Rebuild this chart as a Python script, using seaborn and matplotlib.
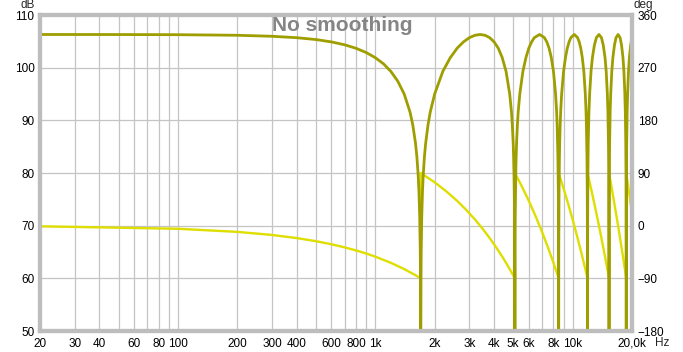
import numpy as np
import pandas as pd
import matplotlib
matplotlib.use("Agg")
import matplotlib.pyplot as plt
import seaborn as sns

mag_freq = [20, 50, 100, 200, 300, 400, 500, 600, 700, 800, 900, 1000, 1100, 1200, 1300,
            1400, 1500, 1550, 1600, 1625, 1650, 1665, 1680, 1690, 1695, 1698, 1700,
            1702, 1705, 1710, 1720, 1735, 1750, 1775, 1800, 1850, 1900, 2000, 2200, 2400,
            2600, 2800, 3000, 3200, 3400, 3600, 3800, 4000, 4200, 4400, 4600, 4800, 4900,
            4950, 5000, 5025, 5050, 5065, 5080, 5090, 5095, 5098, 5100,
            5102, 5105, 5110, 5120, 5135, 5150, 5175, 5200, 5250, 5300, 5400, 5600, 5800,
            6000, 6200, 6400, 6800, 7200, 7400, 7600, 7800, 8000, 8200, 8300, 8350, 8400,
            8425, 8450, 8465, 8480, 8490, 8495, 8498, 8500,
            8502, 8505, 8510, 8520, 8535, 8550, 8575, 8600, 8650, 8700, 8800, 9000, 9200,
            9400, 9600, 9800, 10200, 10600, 10800, 11000, 11200, 11400, 11600, 11700,
            11750, 11800, 11825, 11850, 11865, 11880, 11890, 11895, 11898, 11900,
            11902, 11905, 11910, 11920, 11950, 12000, 12100, 12200, 12400, 12600, 12900,
            13200, 13600, 14000, 14300, 14600, 14800, 15000, 15100, 15200, 15250, 15280,
            15290, 15295, 15298, 15300,
            15302, 15305, 15310, 15320, 15350, 15400, 15500, 15600, 15800, 16000, 16300,
            16600, 17000, 17400, 17700, 18000, 18200, 18400, 18500, 18600, 18650, 18680,
            18690, 18695, 18698, 18700,
            18702, 18705, 18710, 18720, 18750, 18800, 18900, 19000, 19200, 19400, 19700,
            20000]
mag_db = [106.3, 106.29, 106.26, 106.15, 105.96, 105.69, 105.34, 104.89, 104.34, 103.67,
          102.87, 101.9, 100.74, 99.28, 97.44, 95.04, 91.58, 89.1, 85.6, 83.1, 79.6, 76.5,
          71.6, 65.6, 59.6, 51.6, 40,
          51.6, 59.6, 65.6, 71.6, 76.5, 79.6, 83.1, 85.6, 89.1, 91.6, 95.0, 99.3, 101.9,
          103.7, 104.9, 105.7, 106.15, 106.3, 106.15, 105.7, 104.9, 103.7, 101.9, 99.3,
          95.0, 91.6, 89.1, 85.6, 83.1, 79.6, 76.5, 71.6, 65.6, 59.6, 51.6, 40,
          51.6, 59.6, 65.6, 71.6, 76.5, 79.6, 83.1, 85.6, 89.1, 91.6, 95.0, 99.3, 101.9,
          103.7, 104.9, 105.7, 106.3, 105.7, 104.9, 103.7, 101.9, 99.3, 95.0, 91.6, 89.1,
          85.6, 83.1, 79.6, 76.5, 71.6, 65.6, 59.6, 51.6, 40,
          51.6, 59.6, 65.6, 71.6, 76.5, 79.6, 83.1, 85.6, 89.1, 91.6, 95.0, 99.3, 101.9,
          103.7, 104.9, 105.7, 106.3, 105.7, 104.9, 103.7, 101.9, 99.3, 95.0, 91.6,
          89.1, 85.6, 83.1, 79.6, 76.5, 71.6, 65.6, 59.6, 51.6, 40,
          51.6, 59.6, 65.6, 71.6, 79.6, 85.6, 91.6, 95.0, 99.3, 101.9, 104.3,
          105.7, 106.3, 105.7, 104.3, 101.9, 99.3, 95.0, 91.6, 85.6, 79.6, 71.6,
          65.6, 59.6, 51.6, 40,
          51.6, 59.6, 65.6, 71.6, 79.6, 85.6, 91.6, 95.0, 99.3, 101.9, 104.3,
          105.7, 106.3, 105.7, 104.3, 101.9, 99.3, 95.0, 91.6, 85.6, 79.6, 71.6,
          65.6, 59.6, 51.6, 40,
          51.6, 59.6, 65.6, 71.6, 79.6, 85.6, 91.6, 95.0, 99.3, 101.9, 104.3,
          105.7]

# phase (deg), wraps from -90 to +90 at each notch
phase_freq = [20, 100, 200, 300, 400, 500, 600, 700, 800, 900, 1000, 1200, 1400, 1600, 1700,
              1700, 2000, 2300, 2600, 2900, 3200, 3500, 3800, 4100, 4400, 4700, 5100,
              5100, 5500, 6000, 6500, 7000, 7500, 8000, 8500,
              8500, 9000, 9500, 10000, 10500, 11000, 11500, 11900,
              11900, 12500, 13000, 13600, 14200, 14800, 15300,
              15300, 16000, 17000, 18000, 18700,
              18700, 19300, 20000]
phase_deg = [-1.1, -5.3, -10.6, -15.9, -21.2, -26.5, -31.8, -37.1, -42.4, -47.6, -52.9,
             -63.5, -74.1, -84.7, -90,
             90, 74.1, 58.2, 42.4, 26.5, 10.6, -5.3, -21.2, -37.1, -52.9, -68.8, -90,
             90, 68.8, 42.4, 15.9, -10.6, -37.1, -63.5, -90,
             90, 63.5, 37.1, 10.6, -15.9, -42.4, -68.8, -90,
             90, 58.2, 31.8, 0, -31.8, -63.5, -90,
             90, 52.9, 0, -52.9, -90,
             90, 58.2, 21.2]

x_ticks = [20, 30, 40, 60, 80, 100, 200, 300, 400, 600, 800, 1000, 2000, 3000, 4000,
           5000, 6000, 8000, 10000, 20000]
x_labels = ["20", "30", "40", "60", "80", "100", "200", "300", "400", "600", "800", "1k",
            "2k", "3k", "4k", "5k", "6k", "8k", "10k", "20,0k"]
db_ticks = [50, 60, 70, 80, 90, 100, 110]
deg_ticks = [-180, -90, 0, 90, 180, 270, 360]

sns.set_style("white")
plt.rcParams['font.family'] = ['Liberation Sans', 'DejaVu Sans']

mag = pd.DataFrame({"freq": mag_freq, "db": mag_db})
phase = pd.DataFrame({"freq": phase_freq, "deg": phase_deg})

fig = plt.figure(figsize=(6.83, 3.52), dpi=100)
ax = fig.add_axes([40 / 683, 21 / 352, 592 / 683, 316 / 352])
ax2 = ax.twinx()

sns.lineplot(data=phase, x="freq", y="deg", sort=False, estimator=None,
             color="#dede00", linewidth=1.7, ax=ax2)
sns.lineplot(data=mag, x="freq", y="db", sort=False, estimator=None,
             color="#9e9e00", linewidth=2.0, ax=ax)
ax.set_zorder(ax2.get_zorder() + 1)
ax.patch.set_visible(False)

ax.set_xscale("log")
ax.set_xlim(20, 20000)
ax.set_ylim(50, 110)
ax2.set_ylim(-180, 360)

grid_x = [m * 10 ** e for e in range(1, 5) for m in range(1, 10)]
grid_x = [g for g in grid_x if 20 < g < 20000]
for g in grid_x:
    ax2.axvline(g, color="#c4c4c4", linewidth=0.9, zorder=0)
for y in db_ticks[1:-1]:
    ax2.axhline((y - 70) * 9, color="#c4c4c4", linewidth=0.9, zorder=0)

ax.set_xticks(x_ticks)
ax.set_xticklabels(x_labels)
ax.xaxis.set_minor_locator(matplotlib.ticker.NullLocator())
ax.set_yticks(db_ticks)
ax2.set_yticks(deg_ticks)
ax.tick_params(axis="x", length=0, pad=5, labelsize=8.5, colors="black")
ax.tick_params(axis="y", length=0, pad=4, labelsize=8.5, colors="black")
ax2.tick_params(axis="y", length=0, pad=4, labelsize=8.5, colors="black")
ax.set_xlabel("")
ax.set_ylabel("")
ax2.set_ylabel("")

for a in (ax, ax2):
    for s in a.spines.values():
        s.set_color("#bdbdbd")
        s.set_linewidth(3)

fig.text(35 / 683, 1 - 8 / 352, "dB", ha="right", va="baseline", fontsize=8.5)
fig.text(634 / 683, 1 - 8 / 352, "deg", ha="left", va="baseline", fontsize=8.5)
fig.text(655 / 683, 1 - 346 / 352, "Hz", ha="left", va="baseline", fontsize=8.5)
ax.text(0.51, 0.949, "No smoothing", transform=ax.transAxes, ha="center", va="baseline",
        fontsize=15, fontweight="bold", color="#858585")

fig.savefig("out.png", dpi=100)
